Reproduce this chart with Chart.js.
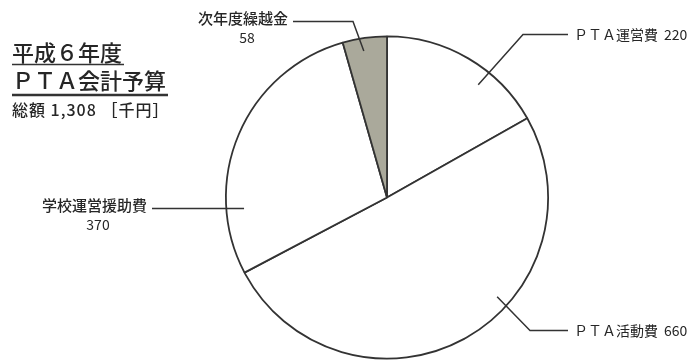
<!DOCTYPE html>
<html>
<head>
<meta charset="utf-8">
<script src="https://cdn.jsdelivr.net/npm/chart.js@4"></script>
<style>
  html, body { margin: 0; padding: 0; background: #ffffff; }
  #wrap { width: 700px; height: 360px; position: relative; }
</style>
</head>
<body>
<div id="wrap"><canvas id="c"></canvas></div>
<script>
// ---- data ----
const categories = ['ＰＴＡ運営費', 'ＰＴＡ活動費', '学校運営援助費', '次年度繰越金'];
const values = [220, 660, 370, 58];
const sliceColors = ['#ffffff', '#ffffff', '#ffffff', '#aaa99b'];
const titleLines = ['平成６年度', 'ＰＴＡ会計予算'];
const totalLabel = '総額 1,308 ［千円］';

const FONT = '"Noto Sans CJK JP", "Noto Sans", sans-serif';
const INK = '#262626';
const LINE = '#333333';

// leader-line layout per slice: inner anchor (angle from top clockwise in deg, radius fraction),
// elbow and end as pixel offsets from pie centre, label placement
const leaders = [
  { idx: 0, ang: 39,  rf: 0.90, elbow: [136, -163], end: [181, -163], align: 'left' },
  { idx: 1, ang: 132, rf: 0.92, elbow: [143, 133],  end: [181, 133],  align: 'left' },
  { idx: 2, ang: 265.6, rf: 0.89, elbow: null,      end: [-235, 11],  align: 'right', valueDx: -54 },
  { idx: 3, ang: -9,  rf: 0.92, elbow: [-34, -176], end: [-94, -176], align: 'right', valueDx: -46 }
];

const labelPlugin = {
  id: 'labels',
  afterDraw(chart) {
    const ctx = chart.ctx;
    const meta = chart.getDatasetMeta(0);
    const a0 = meta.data[0];
    const cx = a0.x, cy = a0.y, R = a0.outerRadius;

    ctx.save();
    // title block
    ctx.fillStyle = INK;
    ctx.textBaseline = 'middle';
    ctx.textAlign = 'left';
    ctx.font = '500 22px ' + FONT;
    ctx.fillText(titleLines[0], 12, 53);
    const w1 = ctx.measureText(titleLines[0]).width;
    ctx.fillText(titleLines[1], 12, 81);
    const w2 = ctx.measureText(titleLines[1]).width;
    ctx.strokeStyle = '#333';
    ctx.lineWidth = 1.5;
    ctx.beginPath(); ctx.moveTo(12, 64.5); ctx.lineTo(12 + w1 + 2, 64.5); ctx.stroke();
    ctx.lineWidth = 2.5;
    ctx.beginPath(); ctx.moveTo(12, 95); ctx.lineTo(12 + w2 + 2, 95); ctx.stroke();
    ctx.font = '500 16px ' + FONT;
    ctx.letterSpacing = '1px';
    ctx.fillText(totalLabel, 12, 110);
    ctx.letterSpacing = '0px';

    // leaders + labels
    ctx.strokeStyle = LINE;
    ctx.lineWidth = 1.5;
    leaders.forEach(L => {
      const t = L.ang * Math.PI / 180;
      const px = cx + Math.sin(t) * R * L.rf;
      const py = cy - Math.cos(t) * R * L.rf;
      ctx.beginPath();
      ctx.moveTo(px, py);
      if (L.elbow) ctx.lineTo(cx + L.elbow[0], cy + L.elbow[1]);
      const ex = cx + L.end[0], ey = cy + L.end[1];
      ctx.lineTo(ex, ey);
      ctx.stroke();

      ctx.fillStyle = INK;
      ctx.textBaseline = 'middle';
      if (L.align === 'left') {
        ctx.textAlign = 'left';
        ctx.font = '14px ' + FONT;
        const name = categories[L.idx];
        ctx.fillText(name, ex + 6, ey);
        const nw = ctx.measureText(name).width;
        ctx.fillText(String(values[L.idx]), ex + 6 + nw + 6, ey);
      } else {
        ctx.textAlign = 'right';
        ctx.font = '500 15px ' + FONT;
        ctx.fillText(categories[L.idx], ex - 5, ey - 3);
        ctx.textAlign = 'center';
        ctx.font = '14px ' + FONT;
        ctx.fillText(String(values[L.idx]), ex + L.valueDx, ey + 16);
      }
    });
    ctx.restore();
  }
};

new Chart(document.getElementById('c'), {
  type: 'pie',
  data: {
    labels: categories,
    datasets: [{
      data: values,
      backgroundColor: sliceColors,
      borderColor: LINE,
      borderWidth: 1.8,
      hoverOffset: 0
    }]
  },
  options: {
    responsive: true,
    maintainAspectRatio: false,
    animation: false,
    layout: { padding: { left: 225, right: 151, top: 35, bottom: 0 } },
    plugins: {
      legend: { display: false },
      tooltip: { enabled: false },
      title: { display: false }
    }
  },
  plugins: [labelPlugin]
});
</script>
</body>
</html>
